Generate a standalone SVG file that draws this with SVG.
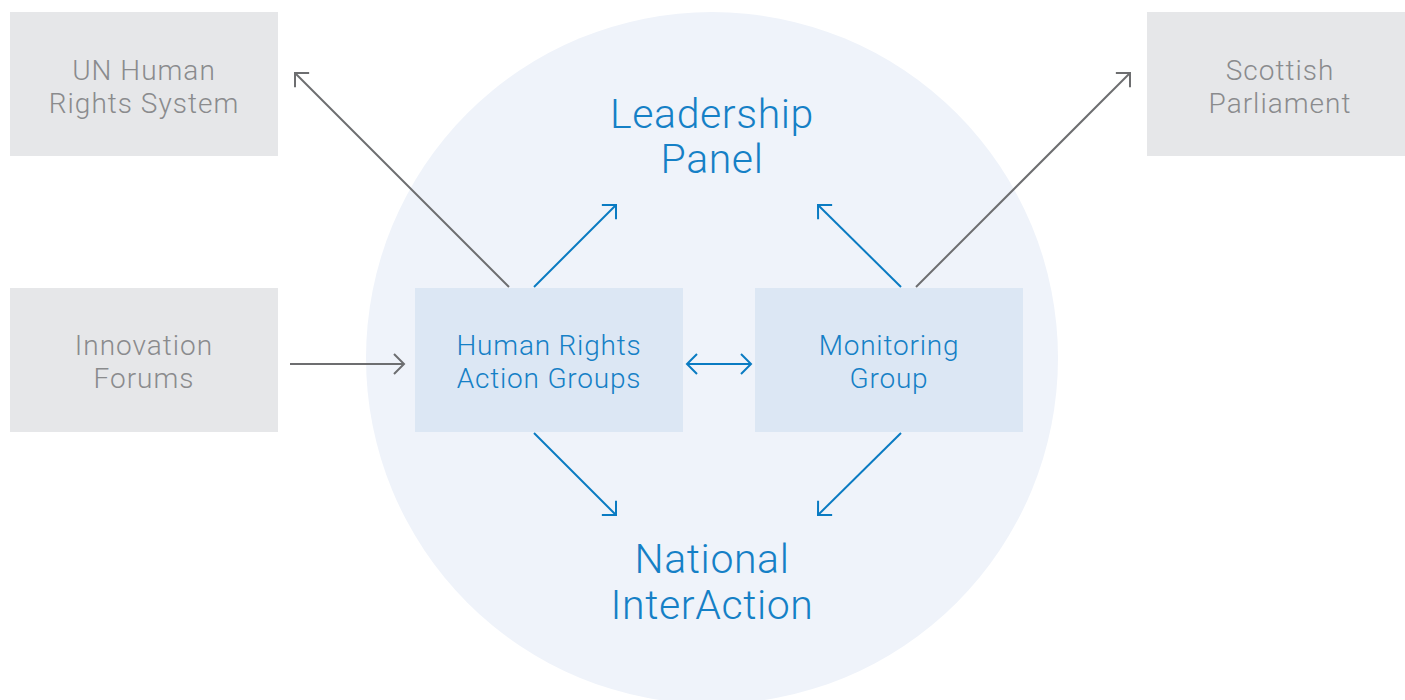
<svg xmlns="http://www.w3.org/2000/svg" width="1405" height="700" viewBox="0 0 1405 700">
<style>
.gbox{fill:#e6e7e9}
.bbox{fill:#dce7f4}
.gt{font-family:Roboto,"Liberation Sans",sans-serif;font-weight:300;font-size:28px;letter-spacing:1px;fill:#8a8b8d;text-anchor:middle}
.bt{font-family:Roboto,"Liberation Sans",sans-serif;font-weight:300;font-size:28px;letter-spacing:0.8px;fill:#1580c6;text-anchor:middle}
.big{font-family:Roboto,"Liberation Sans",sans-serif;font-weight:300;font-size:41px;letter-spacing:0.6px;fill:#1580c6;text-anchor:middle}
.ga{stroke:#6d6e70;stroke-width:2;fill:none;marker-end:url(#ag)}
.ba{stroke:#0a7bc2;stroke-width:2;fill:none;marker-end:url(#ab)}
</style>
<defs>
<marker id="ag" markerUnits="userSpaceOnUse" viewBox="-12 -12 14 24" refX="0" refY="0" markerWidth="14" markerHeight="24" orient="auto">
<path d="M-10,-10 L0,0 L-10,10" fill="none" stroke="#6d6e70" stroke-width="2"/>
</marker>
<marker id="ab" markerUnits="userSpaceOnUse" viewBox="-12 -12 14 24" refX="0" refY="0" markerWidth="14" markerHeight="24" orient="auto-start-reverse">
<path d="M-10,-10 L0,0 L-10,10" fill="none" stroke="#0a7bc2" stroke-width="2"/>
</marker>
</defs>
<rect width="1405" height="700" fill="#ffffff"/>
<circle cx="712" cy="358" r="346" fill="#eff3fa"/>
<g id="leadership-panel">
<text class="big" x="712" y="128">Leadership</text>
<text class="big" x="712" y="173">Panel</text>
</g>
<g id="national-interaction">
<text class="big" x="712" y="573">National</text>
<text class="big" x="712" y="619">InterAction</text>
</g>
<g id="un-human-rights-system">
<rect class="gbox" x="10" y="12" width="268" height="144"/>
<text class="gt" x="144" y="80">UN Human</text>
<text class="gt" x="144" y="113">Rights System</text>
</g>
<g id="scottish-parliament">
<rect class="gbox" x="1147" y="12" width="258" height="144"/>
<text class="gt" x="1280" y="80">Scottish</text>
<text class="gt" x="1280" y="113">Parliament</text>
</g>
<g id="innovation-forums">
<rect class="gbox" x="10" y="288" width="268" height="144"/>
<text class="gt" x="144" y="355">Innovation</text>
<text class="gt" x="144" y="388">Forums</text>
</g>
<g id="human-rights-action-groups">
<rect class="bbox" x="415" y="288" width="268" height="144"/>
<text class="bt" x="549" y="355">Human Rights</text>
<text class="bt" x="549" y="388">Action Groups</text>
</g>
<g id="monitoring-group">
<rect class="bbox" x="755" y="288" width="268" height="144"/>
<text class="bt" x="889" y="355">Monitoring</text>
<text class="bt" x="889" y="388">Group</text>
</g>
<g id="connectors">
<line class="ga" x1="509" y1="287" x2="295" y2="73"/>
<line class="ga" x1="916" y1="287" x2="1130" y2="73"/>
<line class="ga" x1="290" y1="364" x2="404" y2="364"/>
<line class="ba" x1="534" y1="287" x2="616" y2="205"/>
<line class="ba" x1="901" y1="287" x2="818" y2="205"/>
<line class="ba" x1="534" y1="433" x2="616" y2="515"/>
<line class="ba" x1="901" y1="433" x2="818" y2="515"/>
<line class="ba" x1="687" y1="364" x2="751" y2="364" marker-start="url(#ab)"/>
</g>
</svg>
